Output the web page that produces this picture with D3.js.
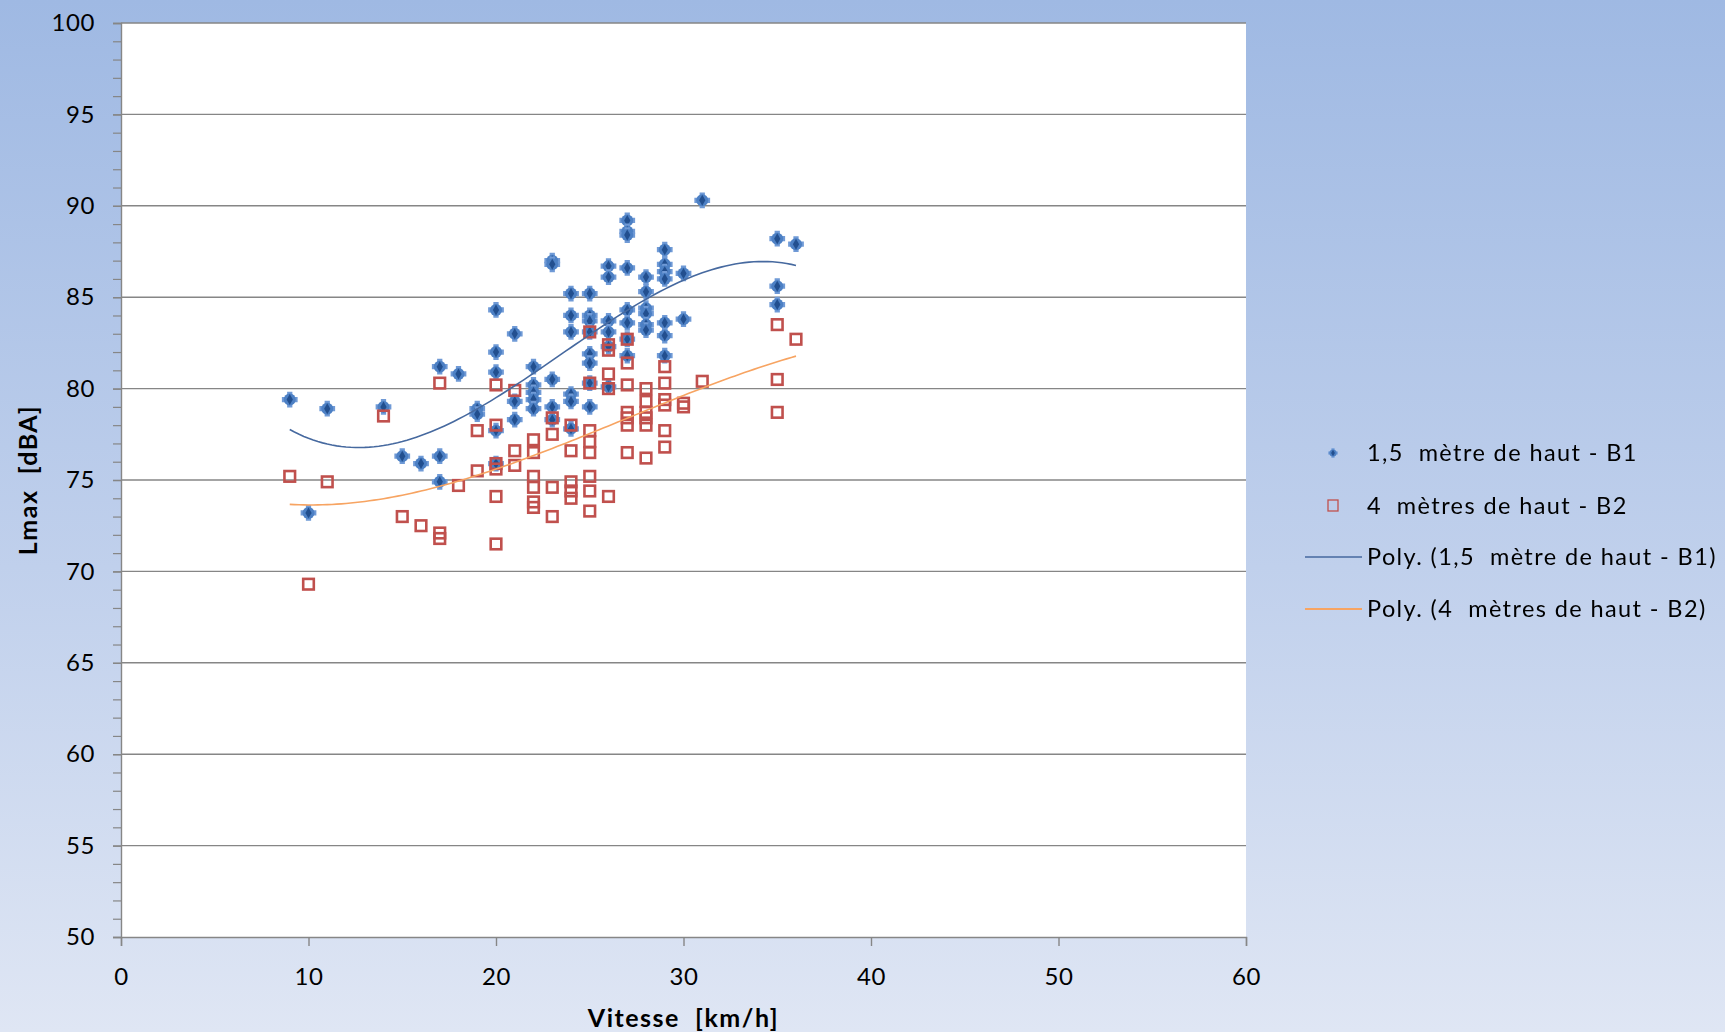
<!DOCTYPE html>
<html>
<head>
<meta charset="utf-8">
<script src="https://cdn.jsdelivr.net/npm/d3@7"></script>
<style>
  body { margin: 0; }
  svg { display: block; }
  text { font-family: Lato, "Open Sans", sans-serif; white-space: pre; fill: #000; }
</style>
</head>
<body>
<svg id="chart" width="1725" height="1032"></svg>
<script>
// Lmax measurements against vehicle speed, two microphone heights
const b1Speed = [9, 10, 11, 14, 15, 16, 17, 17, 17, 18, 19, 19,
  20, 20, 20, 20, 20, 21, 21, 21, 22, 22, 22, 22, 22,
  23, 23, 23, 23, 23, 24, 24, 24, 24, 24, 24,
  25, 25, 25, 25, 25, 25, 25, 25, 26, 26, 26, 26, 26, 26,
  27, 27, 27, 27, 27, 27, 27, 27, 28, 28, 28, 28, 28, 28,
  29, 29, 29, 29, 29, 29, 29, 30, 30, 31, 35, 35, 35, 36];
const b1Level = [79.4, 73.2, 78.9, 79.0, 76.3, 75.9, 81.2, 76.3, 74.9, 80.8, 78.9, 78.6,
  84.3, 82.0, 80.9, 77.7, 75.9, 83.0, 79.3, 78.3, 81.2, 80.2, 79.8, 79.4, 78.9,
  87.0, 86.8, 80.5, 79.0, 78.3, 85.2, 84.0, 83.1, 79.7, 79.3, 77.8,
  85.2, 84.0, 83.7, 83.1, 81.9, 81.4, 80.3, 79.0, 86.7, 86.1, 83.7, 83.1, 82.3, 80.1,
  89.2, 88.6, 88.4, 86.6, 84.3, 83.6, 82.7, 81.8, 86.1, 85.3, 84.4, 84.1, 83.5, 83.2,
  87.6, 86.8, 86.4, 86.0, 83.6, 82.9, 81.8, 86.3, 83.8, 90.3, 88.2, 85.6, 84.6, 87.9];

const b2Speed = [9, 10, 11, 14, 15, 16, 17, 17, 17, 18, 19, 19,
  20, 20, 20, 20, 20, 20, 21, 21, 21, 22, 22, 22, 22, 22, 22,
  23, 23, 23, 23, 24, 24, 24, 24, 24,
  25, 25, 25, 25, 25, 25, 25, 25, 26, 26, 26, 26, 26,
  27, 27, 27, 27, 27, 27, 27, 28, 28, 28, 28, 28, 28,
  29, 29, 29, 29, 29, 29, 30, 30, 31, 35, 35, 35, 36];
const b2Level = [75.2, 69.3, 74.9, 78.5, 73.0, 72.5, 80.3, 72.1, 71.8, 74.7, 77.7, 75.5,
  80.2, 78.0, 75.9, 75.6, 74.1, 71.5, 79.9, 76.6, 75.8, 77.2, 76.5, 75.2, 74.6, 73.8, 73.5,
  78.4, 77.5, 74.6, 73.0, 78.0, 76.6, 74.9, 74.4, 74.0,
  83.1, 80.3, 77.7, 77.1, 76.5, 75.2, 74.4, 73.3, 82.4, 82.1, 80.8, 80.0, 74.1,
  82.7, 81.4, 80.2, 78.7, 78.4, 78.0, 76.5, 80.0, 79.3, 78.7, 78.4, 78.0, 76.2,
  81.2, 80.3, 79.4, 79.1, 77.7, 76.8, 79.2, 79.0, 80.4, 83.5, 80.5, 78.7, 82.7];

const xTicks = [0, 10, 20, 30, 40, 50, 60];
const yTicks = [50, 55, 60, 65, 70, 75, 80, 85, 90, 95, 100];
const seriesNames = [
  "1,5  mètre de haut - B1",
  "4  mètres de haut - B2",
  "Poly. (1,5  mètre de haut - B1)",
  "Poly. (4  mètres de haut - B2)"
];
const xTitle = "Vitesse  [km/h]";
const yTitle = "Lmax  [dBA]";
const trendOrder = 3;

const W = 1725, H = 1032;
const plot = { left: 121, right: 1246, top: 23, bottom: 937 };
const gridColor = "#868686";
const blueDark = "#234f8f", blueMid = "#4d80c4", blueLight = "#6f9ad6";
const redSq = "#c0504d";
const blueTrend = "#46699f", orangeTrend = "#f7a462";

const svg = d3.select("#chart");
const defs = svg.append("defs");

const bg = defs.append("linearGradient").attr("id", "bg")
  .attr("x1", 0).attr("y1", 0).attr("x2", 0).attr("y2", 1);
bg.append("stop").attr("offset", "0%").attr("stop-color", "#9fb9e3");
bg.append("stop").attr("offset", "55%").attr("stop-color", "#c0d0ec");
bg.append("stop").attr("offset", "100%").attr("stop-color", "#dfe6f4");

defs.append("filter").attr("id", "soft")
  .append("feGaussianBlur").attr("stdDeviation", 0.6);

svg.append("rect").attr("width", W).attr("height", H).attr("fill", "url(#bg)");
svg.append("rect")
  .attr("x", plot.left).attr("y", plot.top)
  .attr("width", plot.right - plot.left).attr("height", plot.bottom - plot.top)
  .attr("fill", "#fff");

const x = d3.scaleLinear().domain([0, 60]).range([plot.left, plot.right]);
const y = d3.scaleLinear().domain([50, 100]).range([plot.bottom, plot.top]);

// horizontal gridlines
svg.append("g").selectAll("line").data(yTicks.filter(v => v > 50)).join("line")
  .attr("x1", plot.left).attr("x2", plot.right)
  .attr("y1", d => y(d)).attr("y2", d => y(d))
  .attr("stroke", gridColor).attr("stroke-width", 1.4);

// y axis: minor ticks every unit, labels every 5
const yMinor = svg.append("g").attr("transform", `translate(${plot.left},0)`)
  .call(d3.axisLeft(y).tickValues(d3.range(50, 101, 1)).tickSize(8).tickFormat(""));
yMinor.select(".domain").remove();
yMinor.selectAll("line").attr("stroke", gridColor).attr("stroke-width", 1.2);

const yAxis = svg.append("g").attr("transform", `translate(${plot.left},0)`)
  .call(d3.axisLeft(y).tickValues(yTicks).tickSize(8).tickPadding(18));
yAxis.select(".domain").attr("stroke", gridColor).attr("stroke-width", 1.4);
yAxis.selectAll("line").attr("stroke", gridColor).attr("stroke-width", 1.4);
yAxis.selectAll("text").attr("font-family", "Lato, sans-serif")
  .attr("font-size", 24).attr("letter-spacing", 0.6).attr("fill", "#000");

const xAxis = svg.append("g").attr("transform", `translate(0,${plot.bottom})`)
  .call(d3.axisBottom(x).tickValues(xTicks).tickSize(9).tickPadding(22));
xAxis.select(".domain").attr("stroke", gridColor).attr("stroke-width", 1.4);
xAxis.selectAll("line").attr("stroke", gridColor).attr("stroke-width", 1.4);
xAxis.selectAll("text").attr("font-family", "Lato, sans-serif")
  .attr("font-size", 24).attr("letter-spacing", 0.6).attr("fill", "#000");

// axis titles
svg.append("text").text(xTitle)
  .attr("x", (plot.left + plot.right) / 2).attr("y", 1027)
  .attr("text-anchor", "middle").attr("font-size", 25).attr("font-weight", "bold")
  .attr("letter-spacing", 1.5);
svg.append("text").text(yTitle)
  .attr("transform", `translate(37,${(plot.top + plot.bottom) / 2}) rotate(-90)`)
  .attr("text-anchor", "middle").attr("font-size", 25).attr("font-weight", "bold")
  .attr("letter-spacing", 1.5);

// blue star-like markers
function drawBlue(g, size) {
  const k = size / 14;
  g.append("path").attr("d", d3.symbol(d3.symbolCross, 120 * k * k)())
    .attr("fill", blueLight);
  g.append("circle").attr("r", 5.6 * k).attr("fill", blueMid);
  g.append("path").attr("d", d3.symbol(d3.symbolDiamond, 30 * k * k)())
    .attr("fill", blueDark);
}

const b1Data = b1Speed.map((s, i) => [s, b1Level[i]]);
const b2Data = b2Speed.map((s, i) => [s, b2Level[i]]);

const b1g = svg.append("g").attr("filter", "url(#soft)");
b1g.selectAll("g").data(b1Data).join("g")
  .attr("transform", d => `translate(${x(d[0])},${y(d[1])})`)
  .each(function () { drawBlue(d3.select(this), 15); });

svg.append("g").selectAll("rect").data(b2Data).join("rect")
  .attr("x", d => x(d[0]) - 5.3).attr("y", d => y(d[1]) - 5.3)
  .attr("width", 10.6).attr("height", 10.6)
  .attr("fill", "none").attr("stroke", redSq).attr("stroke-width", 2.6);

// least-squares polynomial trendlines
function polyFit(xs, ys, order) {
  const n = order + 1;
  const c = 22, s = 10;
  const A = Array.from({ length: n }, () => new Array(n + 1).fill(0));
  xs.forEach((xv, k) => {
    const u = (xv - c) / s;
    for (let i = 0; i < n; i++) {
      for (let j = 0; j < n; j++) A[i][j] += Math.pow(u, i + j);
      A[i][n] += ys[k] * Math.pow(u, i);
    }
  });
  for (let i = 0; i < n; i++) {
    let p = i;
    for (let r = i + 1; r < n; r++) if (Math.abs(A[r][i]) > Math.abs(A[p][i])) p = r;
    [A[i], A[p]] = [A[p], A[i]];
    for (let r = 0; r < n; r++) {
      if (r === i) continue;
      const f = A[r][i] / A[i][i];
      for (let col = i; col <= n; col++) A[r][col] -= f * A[i][col];
    }
  }
  const coef = A.map((row, i) => row[n] / row[i]);
  return xv => {
    const u = (xv - c) / s;
    return coef.reduce((acc, a, i) => acc + a * Math.pow(u, i), 0);
  };
}

function trend(xs, ys, color) {
  const f = polyFit(xs, ys, trendOrder);
  const lo = d3.min(xs), hi = d3.max(xs);
  const pts = d3.range(lo, hi + 0.001, 0.25).map(v => [v, f(v)]);
  svg.append("path").datum(pts)
    .attr("d", d3.line().x(d => x(d[0])).y(d => y(d[1])))
    .attr("fill", "none").attr("stroke", color).attr("stroke-width", 1.6);
}
trend(b1Speed, b1Level, blueTrend);
trend(b2Speed, b2Level, orangeTrend);

// legend
const legend = svg.append("g");
const rowY = [453, 506, 557, 609];
const textX = 1367, markX = 1333;
seriesNames.forEach((name, i) => {
  legend.append("text").text(name).attr("x", textX).attr("y", rowY[i])
    .attr("dy", "0.35em").attr("font-size", 23.5).attr("letter-spacing", 1.4);
});
const lb = legend.append("g").attr("transform", `translate(${markX},${rowY[0]})`)
  .attr("filter", "url(#soft)");
drawBlue(lb, 9);
legend.append("rect").attr("x", markX - 5).attr("y", rowY[1] - 6)
  .attr("width", 10).attr("height", 11)
  .attr("fill", "none").attr("stroke", redSq).attr("stroke-width", 1.3);
legend.append("line").attr("x1", 1305).attr("x2", 1362)
  .attr("y1", rowY[2]).attr("y2", rowY[2]).attr("stroke", blueTrend).attr("stroke-width", 1.5);
legend.append("line").attr("x1", 1305).attr("x2", 1362)
  .attr("y1", rowY[3]).attr("y2", rowY[3]).attr("stroke", orangeTrend).attr("stroke-width", 2);
</script>
</body>
</html>
